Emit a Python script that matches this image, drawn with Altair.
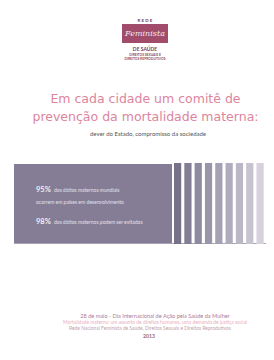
import altair as alt
import pandas as pd

# ---- content ----
logo_top = "R E D E"
logo_name = "Feminista"
logo_sub = "DE SAÚDE"
logo_small = ["DIREITOS SEXUAIS E", "DIREITOS REPRODUTIVOS"]
title_lines = ["Em cada cidade um comitê de", "prevenção da mortalidade materna:"]
subtitle = "dever do Estado, compromisso da sociedade"
stat_values = ["95%", "98%"]
stat_texts = ["dos óbitos maternos mundiais", "dos óbitos maternos podem ser evitados"]
stat_extra = "ocorrem em países em desenvolvimento"
stripe_ids = list(range(1, 11))
stripe_colors = ["#77728a", "#837e95", "#8e8aa0", "#9a95aa", "#a5a0b3", "#b0abbd",
                 "#bcb7c7", "#c8c3d1", "#d6d1dd", "#e5e2ea"]
footer_lines = [
    "28 de maio - Dia Internacional de Ação pela Saúde da Mulher",
    "Mortalidade materna: um assunto de direitos humanos, uma demanda de justiça social",
    "Rede Nacional Feminista de Saúde, Direitos Sexuais e Direitos Reprodutivos",
    "2013",
]

FONT = "Lato"
one = pd.DataFrame({"k": [0]})


def txt(text, x, y, size, color, weight="normal", font=FONT, align="center", style="normal"):
    return alt.Chart(pd.DataFrame({"t": [text]})).mark_text(
        fontSize=size, color=color, fontWeight=weight, font=font, align=align,
        baseline="middle", fontStyle=style
    ).encode(text="t:N", x=alt.value(x), y=alt.value(y))


layers = []

# logo
layers.append(txt(logo_top, 137, 13, 4.5, "#7a3a52", weight="bold"))
layers.append(alt.Chart(one).mark_rect(color="#a04c6a").encode(
    x=alt.value(114), x2=alt.value(160), y=alt.value(16), y2=alt.value(35)))
layers.append(txt(logo_name, 137, 26, 8, "#f6e8ee", font="DejaVu Serif", style="italic"))
layers.append(txt(logo_sub, 137, 41, 5, "#7a3a52", weight="bold"))
layers.append(txt(logo_small[0], 137, 46.5, 3.3, "#8a4a62", weight="bold"))
layers.append(txt(logo_small[1], 137, 51, 3.3, "#8a4a62", weight="bold"))

# titles
layers.append(txt(title_lines[0], 137.5, 91, 12.5, "#dc859d", font="DejaVu Sans"))
layers.append(txt(title_lines[1], 137.5, 109, 12.5, "#dc859d", font="DejaVu Sans"))
layers.append(txt(subtitle, 140, 126, 6, "#555555"))

# purple block
layers.append(alt.Chart(one).mark_rect(color="#857d96").encode(
    x=alt.value(6), x2=alt.value(164), y=alt.value(156), y2=alt.value(235)))
layers.append(alt.Chart(one).mark_rule(color="#aaa5b3", strokeWidth=1).encode(
    x=alt.value(6), x2=alt.value(266), y=alt.value(235.5)))

# stripes
stripes = pd.DataFrame({"i": stripe_ids})
layers.append(alt.Chart(stripes).mark_rect().encode(
    x=alt.X("i:O", scale=alt.Scale(range=[166, 266], paddingInner=0.3, paddingOuter=0), axis=None),
    color=alt.Color("i:O", scale=alt.Scale(domain=stripe_ids, range=stripe_colors), legend=None),
    y=alt.value(155), y2=alt.value(236)))

# stats text
layers.append(txt(stat_values[0], 28, 182, 7.5, "#f1edf5", weight="bold", align="left"))
layers.append(txt(stat_texts[0], 46, 182, 5, "#e4e0ea", align="left"))
layers.append(txt(stat_extra, 28, 194, 5, "#e4e0ea", align="left"))
layers.append(txt(stat_values[1], 28, 214, 7.5, "#f1edf5", weight="bold", align="left"))
layers.append(txt(stat_texts[1], 46, 214, 5, "#e4e0ea", align="left"))

# footer
layers.append(txt(footer_lines[0], 147, 308, 5.6, "#b07a92"))
layers.append(txt(footer_lines[1], 147, 314.5, 4.9, "#e8b0c0"))
layers.append(txt(footer_lines[2], 142, 321, 4.9, "#bea2ac"))
layers.append(txt(footer_lines[3], 141, 328, 5.2, "#8f6e7c", weight="bold"))

chart = alt.layer(*layers).properties(
    width=258, height=344, padding=0, autosize=alt.AutoSizeParams(type="none"),
    background="#ffffff"
).configure_view(stroke=None)

chart.save("out.html", embed_options={"renderer": "svg", "actions": False})
